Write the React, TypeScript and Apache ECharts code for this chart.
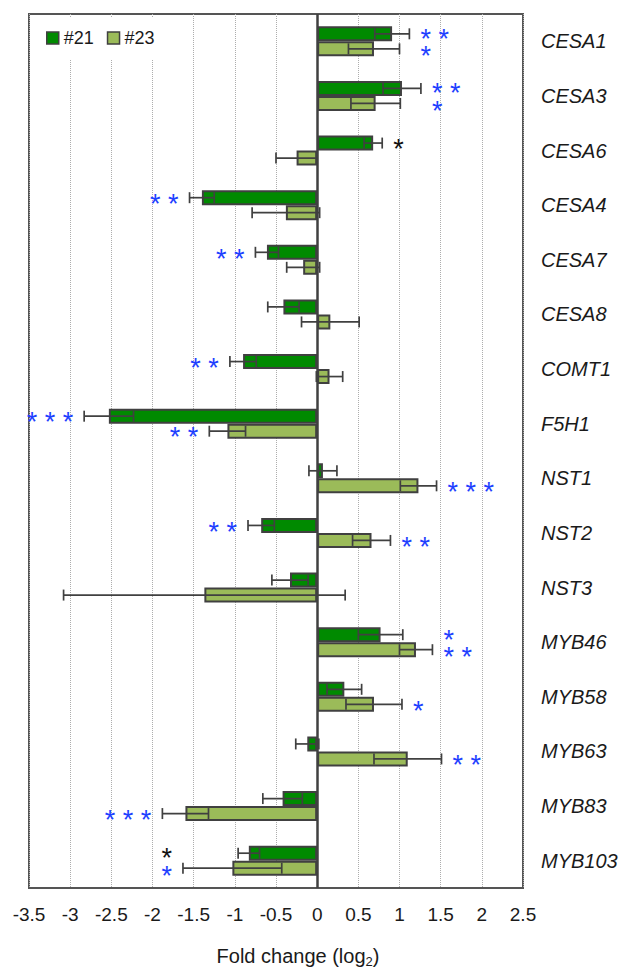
import React, { useEffect, useRef } from 'react';
import * as echarts from 'echarts';

// ---------- data ----------
const genes = ['CESA1', 'CESA3', 'CESA6', 'CESA4', 'CESA7', 'CESA8', 'COMT1', 'F5H1', 'NST1', 'NST2', 'NST3', 'MYB46', 'MYB58', 'MYB63', 'MYB83', 'MYB103'];
const seriesNames = ['#21', '#23'];
const mean21 = [0.91, 1.03, 0.68, -1.40, -0.61, -0.41, -0.90, -2.53, 0.07, -0.68, -0.33, 0.77, 0.33, -0.12, -0.42, -0.83];
const err21 = [0.21, 0.23, 0.11, 0.15, 0.14, 0.19, 0.16, 0.30, 0.17, 0.16, 0.22, 0.27, 0.21, 0.14, 0.24, 0.13];
const mean23 = [0.69, 0.71, -0.25, -0.38, -0.17, 0.16, 0.15, -1.09, 1.23, 0.66, -1.37, 1.20, 0.69, 1.10, -1.60, -1.03];
const err23 = [0.31, 0.30, 0.25, 0.41, 0.20, 0.35, 0.16, 0.22, 0.22, 0.23, 1.71, 0.20, 0.34, 0.41, 0.28, 0.60];
const sig21 = ['**', '**', '*', '**', '**', '', '**', '***', '', '**', '', '*', '', '', '', '*'];
const sig23 = ['*', '*', '', '', '', '', '', '**', '***', '**', '', '**', '*', '**', '***', '*'];
// significance test group: 1 = test A (blue), 2 = test B (black)
const sigTest21 = [1, 1, 2, 1, 1, 0, 1, 1, 0, 1, 0, 1, 0, 0, 0, 2];
const sigTest23 = [1, 1, 0, 0, 0, 0, 0, 1, 1, 1, 0, 1, 1, 1, 1, 1];
const xTicks = { min: -3.5, max: 2.5, interval: 0.5 };

// ---------- styles ----------
const FONT = "'Liberation Sans', Arial, sans-serif";
const C21 = '#008a00';
const C23 = '#9bbb59';
const EDGE = '#404040';
const TEXT = '#1a1a1a';
const SIG_COLORS: Record<number, string> = { 1: '#1e40ff', 2: '#111111' };
const BAR_W = 15;
const STAR_FS = 27;

const means = [mean21, mean23];
const errs = [err21, err23];
const sigs = [sig21, sig23];
const sigTests = [sigTest21, sigTest23];

const errRows: number[][] = [];
for (let s = 0; s < 2; s++) {
  for (let i = 0; i < genes.length; i++) errRows.push([i, means[s][i], errs[s][i], s]);
}

// significance annotations: placed just beyond the outer end of the error bar;
// when both lines of a gene are significant on the same side with similar extents,
// the two marks are stacked into one aligned annotation.
type StarLine = { text: string; test: number };
type StarItem = { cat: number; ext: number; side: number; pos: number; lines: StarLine[] };
const spaced = (code: string) => code.split('').join(' ');
const starItems: StarItem[] = [];
for (let i = 0; i < genes.length; i++) {
  const info = [0, 1].map((s) => {
    const m = means[s][i];
    const side = m >= 0 ? 1 : -1;
    return { s, text: sigs[s][i], test: sigTests[s][i], side, ext: m + side * errs[s][i] };
  });
  const [a, b] = info;
  if (a.text && b.text && a.side === b.side && Math.abs(a.ext - b.ext) < 0.7) {
    const ext = a.side > 0 ? Math.max(a.ext, b.ext) : Math.min(a.ext, b.ext);
    starItems.push({ cat: i, ext, side: a.side, pos: 0, lines: [{ text: spaced(a.text), test: a.test }, { text: spaced(b.text), test: b.test }] });
  } else {
    for (const d of info) {
      if (!d.text) continue;
      starItems.push({ cat: i, ext: d.ext, side: d.side, pos: d.s === 0 ? -1 : 1, lines: [{ text: spaced(d.text), test: d.test }] });
    }
  }
}

export default function App() {
  const ref = useRef<HTMLDivElement>(null);
  useEffect(() => {
    if (!ref.current) return;
    const chart = echarts.init(ref.current, null, { renderer: 'svg' });
    const rich: any = {};
    Object.keys(SIG_COLORS).forEach((k) => {
      rich['t' + k] = { fill: SIG_COLORS[Number(k)], color: SIG_COLORS[Number(k)], fontSize: STAR_FS, fontFamily: FONT, lineHeight: 17.5 };
    });
    const option: any = {
      animation: false,
      backgroundColor: '#ffffff',
      textStyle: { fontFamily: FONT },
      grid: {
        left: 29, right: 107, top: 14, bottom: 91,
        show: true, borderColor: '#555555', borderWidth: 2,
        outerBoundsMode: 'none',
      },
      legend: {
        data: seriesNames,
        left: 38, top: 17,
        orient: 'horizontal',
        itemWidth: 12, itemHeight: 12, itemGap: 13,
        padding: [12, 14, 12, 8],
        backgroundColor: '#ffffff',
        icon: 'rect',
        itemStyle: { borderColor: EDGE, borderWidth: 1.5 },
        textStyle: { fontSize: 18, color: TEXT, fontFamily: FONT },
      },
      xAxis: {
        type: 'value',
        min: xTicks.min, max: xTicks.max, interval: xTicks.interval,
        axisLine: { show: false },
        axisTick: { show: false },
        axisLabel: { fontSize: 19, color: TEXT, margin: 17, fontFamily: FONT },
        splitLine: { show: true, lineStyle: { type: 'dotted', color: '#adadad', width: 1 } },
        name: '{a|Fold change (log}{sub|2}{a|)}',
        nameLocation: 'middle',
        nameGap: 56,
        nameTextStyle: {
          padding: [0, 0, 0, 44],
          rich: {
            a: { fontSize: 20, color: TEXT, fontFamily: FONT, lineHeight: 24, verticalAlign: 'middle' },
            sub: { fontSize: 13, color: TEXT, fontFamily: FONT, lineHeight: 13, verticalAlign: 'bottom' },
          },
        },
      },
      yAxis: {
        type: 'category',
        data: genes,
        inverse: true,
        position: 'right',
        axisLine: { show: false, onZero: false },
        axisTick: { show: false },
        splitLine: { show: false },
        axisLabel: { fontSize: 20, fontStyle: 'italic', color: TEXT, margin: 18, fontFamily: FONT, align: 'left' },
      },
      series: [
        {
          name: seriesNames[0], type: 'bar', data: mean21, barWidth: BAR_W, barGap: '0%',
          itemStyle: { color: C21, borderColor: EDGE, borderWidth: 2 },
          markLine: {
            silent: true, symbol: ['none', 'none'], label: { show: false },
            lineStyle: { color: EDGE, width: 2.5, type: 'solid' },
            data: [{ xAxis: 0 }],
          },
          z: 2,
        },
        {
          name: seriesNames[1], type: 'bar', data: mean23, barWidth: BAR_W, barGap: '0%',
          itemStyle: { color: C23, borderColor: EDGE, borderWidth: 2 },
          z: 2,
        },
        {
          type: 'custom', name: 'err', data: errRows, encode: { x: 1, y: 0 }, z: 5, silent: true,
          renderItem: (params: any, api: any) => {
            const cat = api.value(0), m = api.value(1), e = api.value(2), s = api.value(3);
            const c = api.coord([m, cat]);
            const yc = c[1] + (s === 0 ? -BAR_W / 2 : BAR_W / 2);
            const lo = api.coord([m - e, cat])[0];
            const hi = api.coord([m + e, cat])[0];
            const st = { stroke: EDGE, lineWidth: 1.7 };
            const h = 5.5;
            return {
              type: 'group',
              children: [
                { type: 'line', shape: { x1: lo, y1: yc, x2: hi, y2: yc }, style: st },
                { type: 'line', shape: { x1: lo, y1: yc - h, x2: lo, y2: yc + h }, style: st },
                { type: 'line', shape: { x1: hi, y1: yc - h, x2: hi, y2: yc + h }, style: st },
              ],
            };
          },
        },
        {
          type: 'custom', name: 'sig', data: starItems.map((d) => [d.cat, d.ext]),
          encode: { x: 1, y: 0 }, z: 6, silent: true,
          renderItem: (params: any, api: any) => {
            const d = starItems[params.dataIndex];
            const c = api.coord([d.ext, d.cat]);
            const yc = c[1] + d.pos * BAR_W / 2;
            const text = d.lines.map((l) => `{t${l.test}|${l.text}}`).join('\n');
            return {
              type: 'text',
              x: c[0] + d.side * 11,
              y: yc + STAR_FS * 0.23,
              style: {
                text,
                rich,
                fill: SIG_COLORS[1],
                fontSize: STAR_FS,
                fontFamily: FONT,
                align: d.side > 0 ? 'left' : 'right',
                verticalAlign: 'middle',
              },
            };
          },
        },
      ],
    };
    chart.setOption(option);
    return () => chart.dispose();
  }, []);
  return (
    <div
      ref={ref}
      style={{ position: 'fixed', left: 0, top: 0, width: 630, height: 979, background: '#fff' }}
    />
  );
}
